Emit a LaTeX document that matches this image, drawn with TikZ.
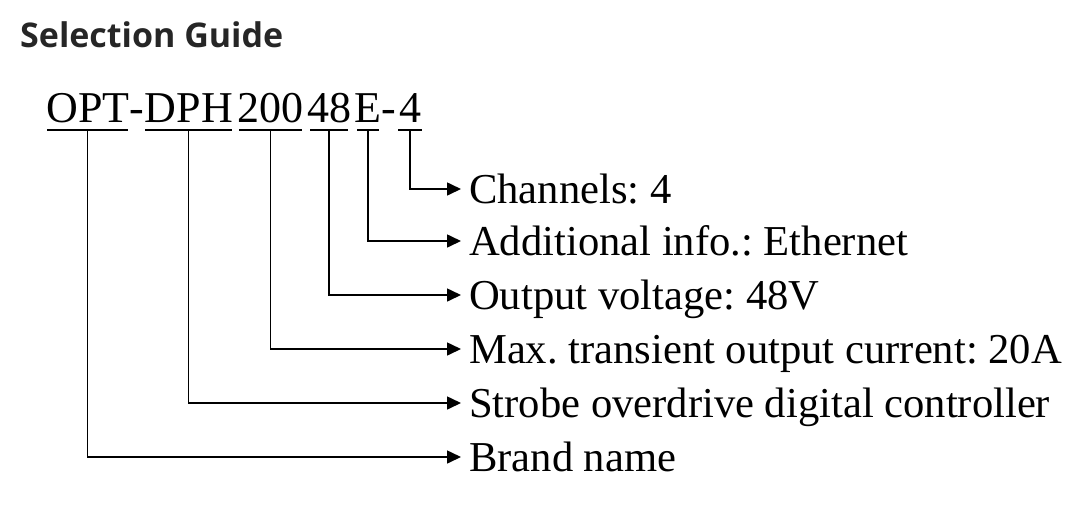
\documentclass[tikz,border=0pt]{standalone}
\usepackage{fontspec}
\setmainfont{Liberation Serif}
\newfontfamily\titlefont{Open Sans}[BoldFont={Open Sans Bold}]
\usetikzlibrary{arrows.meta}
\frenchspacing
\tikzset{
  codetext/.style={inner sep=0pt, anchor=base, font=\fontsize{44}{44}\selectfont},
  uline/.style={line width=2pt},
  conn/.style={line width=1.6pt, -{Triangle[length=14pt,width=13pt]}},
  lab/.style={inner xsep=0pt, inner ysep=0pt, anchor=west, text height=28pt, text depth=0pt,
    font=\fontsize{42.6}{42.6}\selectfont},
}
\begin{document}
\begin{tikzpicture}[x=1pt,y=-1pt]
\useasboundingbox (0,0) rectangle (1071,512);
\node[inner sep=0pt, anchor=base west, text=black!85, font=\titlefont\bfseries\fontsize{34}{34}\selectfont] (title) at (20,47) {Selection Guide};
% code groups
\node[codetext] (c1) at (88,122) {OPT};
\node[codetext] (h1) at (136.5,122) {-};
\node[codetext] (c2) at (189,122) {DPH};
\node[codetext] (c3) at (270.5,122) {200};
\node[codetext] (c4) at (329,122) {48};
\node[codetext] (c5) at (368,122) {E};
\node[codetext] (h2) at (388.5,122) {-};
\node[codetext] (c6) at (410,122) {4};
% underlines
\draw[uline] (47,130) -- (128,130) coordinate[pos=0.5] (u1);
\draw[uline] (145,130) -- (232,130) coordinate[pos=0.5] (u2);
\draw[uline] (239,130) -- (302,130) coordinate[pos=0.5] (u3);
\draw[uline] (310,130) -- (348,130) coordinate[pos=0.5] (u4);
\draw[uline] (357,130) -- (379,130) coordinate[pos=0.5] (u5);
\draw[uline] (398,130) -- (422,130) coordinate[pos=0.5] (u6);
% labels
\node[lab] (l6) at (461,189) {\hspace{8pt}Channels: 4};
\node[lab] (l5) at (461,241) {\hspace{8pt}Additional info.: Ethernet};
\node[lab] (l4) at (461,295) {\hspace{8pt}Output voltage: 48V};
\node[lab] (l3) at (461,349) {\hspace{8pt}Max. transient output current: 20A};
\node[lab] (l2) at (461,403) {\hspace{8pt}Strobe overdrive digital controller};
\node[lab] (l1) at (461,457) {\hspace{8pt}Brand name};
% connectors
\draw[conn] (u6) |- (l6.west);
\draw[conn] (u5) |- (l5.west);
\draw[conn] (u4) |- (l4.west);
\draw[conn] (u3) |- (l3.west);
\draw[conn] (u2) |- (l2.west);
\draw[conn] (u1) |- (l1.west);
\end{tikzpicture}
\end{document}
